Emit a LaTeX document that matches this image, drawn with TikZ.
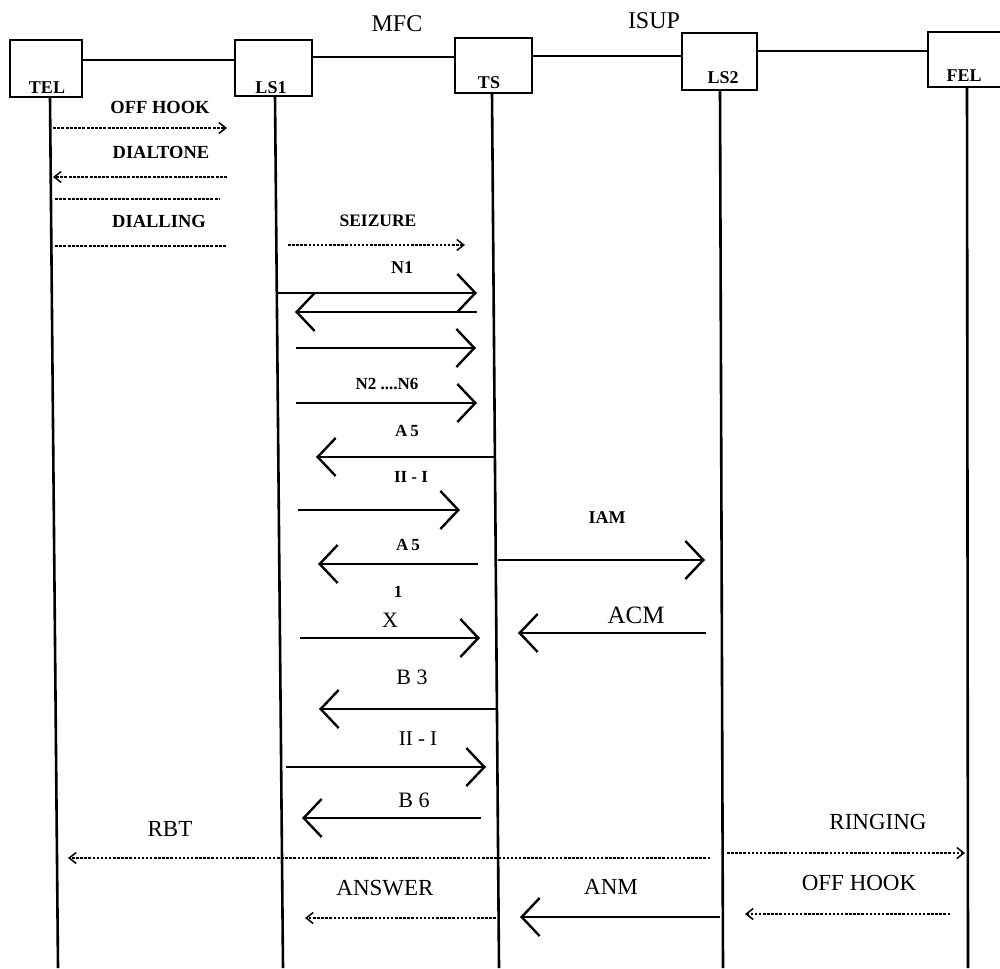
\documentclass[tikz,border=0pt]{standalone}
\usepackage{fontspec}
\setmainfont{Liberation Serif}
\usetikzlibrary{arrows.meta}
\begin{document}
\begin{tikzpicture}[x=1pt,y=-1pt,
 box/.style={draw,line width=2pt,inner sep=0pt},
 life/.style={line width=2.6pt},
 link/.style={line width=1.1pt},
 msg/.style={line width=1.2pt},
 big/.style={-{Straight Barb[length=18pt,width=38pt,line width=2.4pt]}},
 small/.style={-{Straight Barb[length=7pt,width=11pt,line width=1.5pt]}},
 dsh/.style={dash pattern=on 3pt off 1.2pt},
 dtt/.style={dash pattern=on 2.5pt off 1.6pt},
 bl/.style={font=\bfseries\fontsize{#1}{#1}\selectfont, inner sep=0pt},
 rl/.style={font=\fontsize{#1}{#1}\selectfont, inner sep=0pt}]
\useasboundingbox (0,0) rectangle (1000,968);
\clip (0,0) rectangle (1000,968);
% boxes
\node[box,minimum width=72pt,minimum height=57pt] (tel) at (46,68.5) {};
\node[box,minimum width=77pt,minimum height=56pt] (ls1) at (273.5,68) {};
\node[box,minimum width=77pt,minimum height=55pt] (ts)  at (493.5,65.5) {};
\node[box,minimum width=75pt,minimum height=57pt] (ls2) at (719.5,61.5) {};
\node[box,minimum width=90pt,minimum height=55pt] (fel) at (973,59.5) {};
\node[bl=18] (telL) at (47,88) {TEL};
\node[bl=18] (ls1L) at (271,88) {LS1};
\node[bl=18] (tsL)  at (489,83) {TS};
\node[bl=18] (ls2L) at (723,78) {LS2};
\node[bl=18] (felL) at (964,76) {FEL};
\node[rl=24] (mfc) at (397,24) {MFC};
\node[rl=24] (isup) at (654,21) {ISUP};
% links between boxes
\draw[link] (tel.east|-0,60) -- (ls1.west|-0,60);
\draw[link] (ls1.east|-0,57) -- (ts.west|-0,57);
\draw[link] (ts.east|-0,56) -- (ls2.west|-0,56);
\draw[link] (ls2.east|-0,51) -- (fel.west|-0,51);
% lifelines
\coordinate (telT) at (50,97);  \coordinate (telB) at (58,968);
\coordinate (ls1T) at (275,96); \coordinate (ls1B) at (283,968);
\coordinate (tsT) at (492,93);  \coordinate (tsB) at (499,968);
\coordinate (ls2T) at (720,90); \coordinate (ls2B) at (723,968);
\coordinate (felT) at (967,87); \coordinate (felB) at (968,968);
\draw[life] (telT) -- (telB);
\draw[life] (ls1T) -- (ls1B);
\draw[life] (tsT) -- (tsB);
\draw[life] (ls2T) -- (ls2B);
\draw[life] (felT) -- (felB);
% TEL - LS1
\node[bl=18.5] (l1) at (160,107) {OFF HOOK};
\coordinate (a1s) at (53,128); \coordinate (a1e) at (227,128);
\draw[msg,dsh,small] (a1s) -- (a1e);
\node[bl=18.5] (l2) at (161,152) {DIALTONE};
\coordinate (a2s) at (227,177); \coordinate (a2e) at (53,177);
\draw[msg,dsh,small] (a2s) -- (a2e);
\coordinate (a3s) at (55,199); \coordinate (a3e) at (220,199);
\draw[msg,dsh] (a3s) -- (a3e);
\node[bl=18.5] (l3) at (159,221) {DIALLING};
\coordinate (a4s) at (55,246); \coordinate (a4e) at (227,246);
\draw[msg,dsh] (a4s) -- (a4e);
% LS1 - TS (MFC)
\node[bl=17.5] (l5) at (378,221) {SEIZURE};
\coordinate (a5s) at (288,245); \coordinate (a5e) at (465,245);
\draw[msg,dtt,small] (a5s) -- (a5e);
\node[bl=18] (l6) at (402,268) {N1};
\coordinate (a6s) at (277,293); \coordinate (a6e) at (477,293);
\draw[msg,big] (a6s) -- (a6e);
\coordinate (a7s) at (477,312); \coordinate (a7e) at (295,312);
\draw[msg,big] (a7s) -- (a7e);
\coordinate (a8s) at (296,348); \coordinate (a8e) at (476,348);
\draw[msg,big] (a8s) -- (a8e);
\node[bl=17] (l9) at (387,384) {N2 ....N6};
\coordinate (a9s) at (296,403); \coordinate (a9e) at (477,403);
\draw[msg,big] (a9s) -- (a9e);
\node[bl=17] (l10) at (407,431) {A\,5};
\coordinate (a10s) at (495,457); \coordinate (a10e) at (316,457);
\draw[msg,big] (a10s) -- (a10e);
\node[bl=17] (l11) at (411,477) {II - I};
\coordinate (a11s) at (298,510); \coordinate (a11e) at (460,510);
\draw[msg,big] (a11s) -- (a11e);
\node[bl=17] (l12) at (408,545) {A\,5};
\coordinate (a12s) at (478,564); \coordinate (a12e) at (318,564);
\draw[msg,big] (a12s) -- (a12e);
\node[bl=17] (l13) at (398,592) {1};
\node[rl=22] (l14) at (390,620) {X};
\coordinate (a14s) at (300,638); \coordinate (a14e) at (480,638);
\draw[msg,big] (a14s) -- (a14e);
\node[rl=22] (l15) at (412,677) {B 3};
\coordinate (a15s) at (497,709); \coordinate (a15e) at (319,709);
\draw[msg,big] (a15s) -- (a15e);
\node[rl=21] (l16) at (418,739) {II - I};
\coordinate (a16s) at (286,767); \coordinate (a16e) at (486,767);
\draw[msg,big] (a16s) -- (a16e);
\node[rl=22] (l17) at (414,800) {B 6};
\coordinate (a17s) at (481,818); \coordinate (a17e) at (302,818);
\draw[msg,big] (a17s) -- (a17e);
% TS - LS2 (ISUP)
\node[bl=18] (l18) at (607,518) {IAM};
\coordinate (a18s) at (498,560); \coordinate (a18e) at (705,560);
\draw[msg,big] (a18s) -- (a18e);
\node[rl=25] (l19) at (636,615) {ACM};
\coordinate (a19s) at (706,633); \coordinate (a19e) at (518,633);
\draw[msg,big] (a19s) -- (a19e);
% bottom
\node[rl=23] (l20) at (170,829) {RBT};
\coordinate (a20s) at (710,858); \coordinate (a20e) at (68,858);
\draw[msg,dtt,small] (a20s) -- (a20e);
\node[rl=23] (l21) at (878,822) {RINGING};
\coordinate (a21s) at (727,853); \coordinate (a21e) at (965,853);
\draw[msg,dtt,small] (a21s) -- (a21e);
\node[rl=23] (l22) at (859,883) {OFF HOOK};
\coordinate (a22s) at (950,914); \coordinate (a22e) at (745,914);
\draw[msg,dtt,small] (a22s) -- (a22e);
\node[rl=23] (l23) at (611,887) {ANM};
\coordinate (a23s) at (720,917); \coordinate (a23e) at (520,917);
\draw[msg,big] (a23s) -- (a23e);
\node[rl=23] (l24) at (385,888) {ANSWER};
\coordinate (a24s) at (500,918); \coordinate (a24e) at (305,918);
\draw[msg,dtt,small] (a24s) -- (a24e);
\end{tikzpicture}
\end{document}
